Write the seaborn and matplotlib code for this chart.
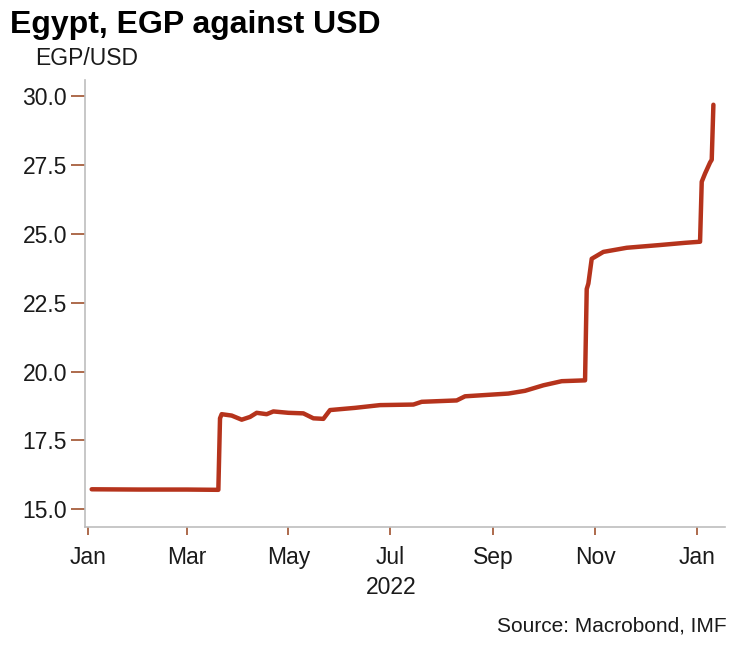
import pandas as pd
import matplotlib.pyplot as plt
import matplotlib.dates as mdates
import seaborn as sns

# === Data ===
dates = [
    "2022-01-03", "2022-02-01", "2022-03-01", "2022-03-20", "2022-03-21",
    "2022-03-22", "2022-03-28", "2022-04-03", "2022-04-08", "2022-04-12",
    "2022-04-18", "2022-04-22", "2022-05-01", "2022-05-10", "2022-05-16",
    "2022-05-22", "2022-05-26", "2022-06-10", "2022-06-25", "2022-07-15",
    "2022-07-20", "2022-08-10", "2022-08-15", "2022-09-10", "2022-09-20",
    "2022-10-01", "2022-10-12", "2022-10-26", "2022-10-27", "2022-10-28",
    "2022-10-30", "2022-11-06", "2022-11-20", "2022-12-10", "2022-12-25",
    "2023-01-03", "2023-01-04", "2023-01-06", "2023-01-09", "2023-01-10",
    "2023-01-11",
]
egp_usd = [
    15.72, 15.71, 15.71, 15.70, 18.30,
    18.45, 18.40, 18.25, 18.35, 18.50,
    18.45, 18.55, 18.50, 18.48, 18.30,
    18.28, 18.60, 18.68, 18.78, 18.80,
    18.90, 18.95, 19.10, 19.20, 19.30,
    19.50, 19.65, 19.68, 23.00, 23.20,
    24.10, 24.35, 24.50, 24.60, 24.68,
    24.72, 26.90, 27.20, 27.60, 27.70,
    29.70,
]
y_ticks = [15.0, 17.5, 20.0, 22.5, 25.0, 27.5, 30.0]

df = pd.DataFrame({"date": pd.to_datetime(dates), "rate": egp_usd})

# === Style ===
sns.set_style("white")
plt.rcParams["font.family"] = ["Liberation Sans", "DejaVu Sans"]

line_col = "#B5331C"
tick_col = "#A0522D"
spine_col = "#BDBDBD"
text_col = "#1a1a1a"

fig = plt.figure(figsize=(7.29, 6.45), dpi=100)
ax = fig.add_axes([0.1166, 0.183, 0.878, 0.693])

sns.lineplot(data=df, x="date", y="rate", ax=ax, color=line_col, linewidth=3.2)

ax.set_xlim(pd.Timestamp("2021-12-30"), pd.Timestamp("2023-01-18"))
ax.set_ylim(14.35, 30.6)
ax.set_yticks(y_ticks)
ax.set_yticklabels([f"{v:.1f}" for v in y_ticks])

ax.xaxis.set_major_locator(mdates.MonthLocator(bymonth=[1, 3, 5, 7, 9, 11]))
ax.xaxis.set_major_formatter(mdates.DateFormatter("%b"))

ax.set_xlabel("")
ax.set_ylabel("")

for side in ["top", "right"]:
    ax.spines[side].set_visible(False)
for side in ["left", "bottom"]:
    ax.spines[side].set_color(spine_col)
    ax.spines[side].set_linewidth(1.2)

ax.tick_params(axis="y", direction="out", length=10, width=1.2, color=tick_col,
               labelsize=16.5, labelcolor=text_col, pad=3, left=True)
ax.tick_params(axis="x", direction="out", length=6, width=1.2, color=tick_col,
               labelsize=16.5, labelcolor=text_col, pad=8, bottom=True)

# === Texts ===
fig.text(0.014, 0.962, "Egypt, EGP against USD", fontsize=23, fontweight="bold",
         color="#000000", ha="left", va="center")
fig.text(0.048, 0.910, "EGP/USD", fontsize=16.5, color=text_col, ha="left", va="center")
fig.text(0.537, 0.089, "2022", fontsize=16.5, color=text_col, ha="center", va="center")
fig.text(0.997, 0.015, "Source: Macrobond, IMF", fontsize=15, color=text_col,
         ha="right", va="bottom")

fig.savefig("out.png", dpi=100)
plt.close(fig)
